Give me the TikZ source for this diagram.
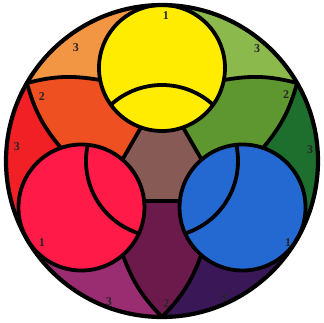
\documentclass[tikz,border=0pt]{standalone}
\usepackage{fontspec}
\setmainfont{Liberation Serif}
\usetikzlibrary{calc}
\definecolor{yelP}{RGB}{255,236,0}
\definecolor{redP}{RGB}{255,26,72}
\definecolor{bluP}{RGB}{36,104,210}
\definecolor{oraS}{RGB}{238,80,34}
\definecolor{greS}{RGB}{94,150,48}
\definecolor{purS}{RGB}{108,26,76}
\definecolor{oraT}{RGB}{243,150,68}
\definecolor{redT}{RGB}{240,32,36}
\definecolor{rviT}{RGB}{154,44,114}
\definecolor{bviT}{RGB}{58,24,88}
\definecolor{bgrT}{RGB}{30,110,46}
\definecolor{ygrT}{RGB}{140,185,76}
\definecolor{broC}{RGB}{136,90,86}
\begin{document}
\begin{tikzpicture}[x=1pt,y=1pt,
  ln/.style={line width=3.8pt,black},
  outer/.style={line width=4.2pt,black},
  lbl/.style={font=\bfseries\fontsize{12}{12}\selectfont,text=black!85,inner sep=0pt},
  bd/.style={bend left=12}]
\useasboundingbox (-162,-161) rectangle (162,161);
\coordinate (C) at (0,0);
\coordinate (Y) at (90:93);
\coordinate (R) at (210:93);
\coordinate (B) at (330:93);
\coordinate (Vo) at (150:156);
\coordinate (Vg) at (30:156);
\coordinate (Vp) at (270:156);
\coordinate (Oy) at ($(Y)+(191:63)$);
\coordinate (Or) at ($(R)+(109:63)$);
\coordinate (Pr) at ($(R)+(311:63)$);
\coordinate (Pb) at ($(B)+(229:63)$);
\coordinate (Gb) at ($(B)+(71:63)$);
\coordinate (Gy) at ($(Y)+(349:63)$);
\coordinate (Ty) at (0,70);
\coordinate (Tr) at (-63.5,-40);
\coordinate (Tb) at (63.5,-40);
% tertiary sectors
\fill[oraT] (C) -- (90:156) arc[start angle=90,end angle=150,radius=156] -- cycle;
\fill[redT] (C) -- (150:156) arc[start angle=150,end angle=210,radius=156] -- cycle;
\fill[rviT] (C) -- (210:156) arc[start angle=210,end angle=270,radius=156] -- cycle;
\fill[bviT] (C) -- (270:156) arc[start angle=270,end angle=330,radius=156] -- cycle;
\fill[bgrT] (C) -- (330:156) arc[start angle=330,end angle=390,radius=156] -- cycle;
\fill[ygrT] (C) -- (30:156) arc[start angle=30,end angle=90,radius=156] -- cycle;
% secondary regions
\fill[oraS] (Vo) to[bd] (Oy) -- (Ty) -- (Tr) -- (Or) to[bd] (Vo) -- cycle;
\fill[purS] (Vp) to[bd] (Pr) -- (Tr) -- (Tb) -- (Pb) to[bd] (Vp) -- cycle;
\fill[greS] (Vg) to[bd] (Gb) -- (Tb) -- (Ty) -- (Gy) to[bd] (Vg) -- cycle;
% centre
\fill[broC] (Ty) -- (Tr) -- (Tb) -- cycle;
\draw[ln] (Vo) to[bd] (Oy);
\draw[ln] (Or) to[bd] (Vo);
\draw[ln] (Vp) to[bd] (Pr);
\draw[ln] (Pb) to[bd] (Vp);
\draw[ln] (Vg) to[bd] (Gb);
\draw[ln] (Gy) to[bd] (Vg);
\draw[ln,line join=round] (Ty) -- (Tr) -- (Tb) -- cycle;
% primaries
\fill[yelP] (Y) circle[radius=63];
\fill[redP] (R) circle[radius=63];
\fill[bluP] (B) circle[radius=63];
\begin{scope}
\clip (Y) circle[radius=63];
\draw[ln] (C) circle[radius=76];
\end{scope}
\begin{scope}
\clip (R) circle[radius=63];
\draw[ln] (C) circle[radius=76];
\end{scope}
\begin{scope}
\clip (B) circle[radius=63];
\draw[ln] (C) circle[radius=76];
\end{scope}
\draw[ln] (Y) circle[radius=63];
\draw[ln] (R) circle[radius=63];
\draw[ln] (B) circle[radius=63];
\draw[outer] (C) circle[radius=156];
% labels
\node[lbl] (l1y) at (4,145) {1};
\node[lbl] (l1r) at (-120,-82) {1};
\node[lbl] (l1b) at (126,-82) {1};
\node[lbl] (l2o) at (-120,64) {2};
\node[lbl] (l2g) at (124,66) {2};
\node[lbl] (l2p) at (4.5,-142.5) {2};
\node[lbl] (l3o) at (-86,113.5) {3};
\node[lbl] (l3r) at (-145,14.5) {3};
\node[lbl] (l3yg) at (95,112) {3};
\node[lbl] (l3bg) at (148,11) {3};
\node[lbl] (l3rv) at (-53,-140.5) {3};
\node[lbl] (l3bv) at (61.5,-137) {3};
\end{tikzpicture}
\end{document}
